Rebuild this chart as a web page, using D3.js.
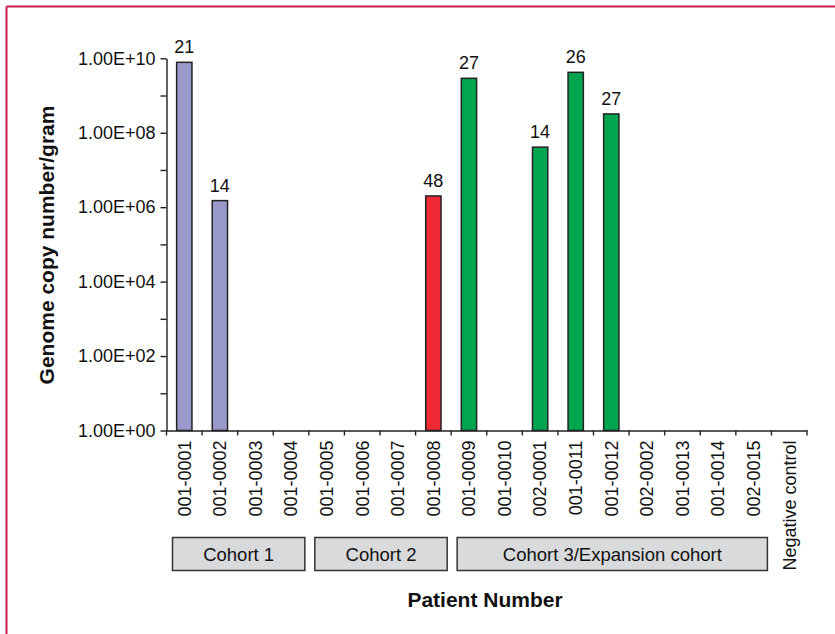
<!DOCTYPE html>
<html>
<head>
<meta charset="utf-8">
<script src="https://cdn.jsdelivr.net/npm/d3@7"></script>
<style>
  body { margin: 0; background: white; }
  text { font-family: Arial, "Liberation Sans", sans-serif; }
</style>
</head>
<body>
<div id="container"></div>
<script>
let w = 835;
let h = 634;

// data (0 = nothing detected, no bar)
let patients = ["001-0001", "001-0002", "001-0003", "001-0004", "001-0005", "001-0006",
  "001-0007", "001-0008", "001-0009", "001-0010", "002-0001", "001-0011", "001-0012",
  "002-0002", "001-0013", "001-0014", "002-0015", "Negative control"];
let copies = [7.8e9, 1.5e6, 0, 0, 0, 0, 0, 2.0e6, 2.9e9, 0, 4.1e7, 4.2e9, 3.2e8, 0, 0, 0, 0, 0];
let barLabels = ["21", "14", "", "", "", "", "", "48", "27", "", "14", "26", "27", "", "", "", "", ""];
let cohortOf = [1, 1, 1, 1, 2, 2, 2, 2, 3, 3, 3, 3, 3, 3, 3, 3, 3, 0];

let cohortNames = ["Cohort 1", "Cohort 2", "Cohort 3/Expansion cohort"];
let cohortFirst = ["001-0001", "001-0005", "001-0009"];
let cohortLast = ["001-0004", "001-0008", "002-0015"];

let yTickValues = [1, 1e1, 1e2, 1e3, 1e4, 1e5, 1e6, 1e7, 1e8, 1e9, 1e10];

let cohortColors = { 1: "#9999cc", 2: "#ee2b34", 3: "#00a550" };

let viz = d3.select("#container")
  .append("svg")
  .attr("width", w)
  .attr("height", h)
  .style("background-color", "white")
  ;

// frame lines on top and left
viz.append("line").attr("x1", 6.5).attr("y1", 6.5).attr("x2", w).attr("y2", 6.5)
  .attr("stroke", "#c8214f").attr("stroke-width", 2);
viz.append("line").attr("x1", 6.5).attr("y1", 6.5).attr("x2", 6.5).attr("y2", h)
  .attr("stroke", "#c8214f").attr("stroke-width", 2);

let plotLeft = 166.5;
let plotRight = 807;
let plotTop = 58.3;
let plotBottom = 430.5;

let xScale = d3.scaleBand().domain(patients).range([plotLeft, plotRight]).padding(0);
let yScale = d3.scaleLog().domain([1, 1e10]).range([plotBottom, plotTop]);

function formatTick(d) {
  let e = Math.round(Math.log10(d));
  if (e % 2 != 0) {
    return "";
  }
  return "1.00E+" + (e < 10 ? "0" + e : e);
}

// Y AXIS
let yAxis = d3.axisLeft(yScale)
  .tickValues(yTickValues)
  .tickFormat(formatTick)
  .tickSize(6)
  .tickSizeOuter(0)
  .tickPadding(5);
let yAxisGroup = viz.append("g").attr("class", "yaxis")
  .attr("transform", "translate(" + plotLeft + ", 0)")
  .call(yAxis);
yAxisGroup.selectAll("text").style("font-size", "18px").attr("fill", "#111");
yAxisGroup.selectAll("line, path").attr("stroke", "#222").attr("stroke-width", 1.4);

// X AXIS (line only, ticks at slot boundaries, labels rotated)
let xAxis = d3.axisBottom(xScale).tickSize(0).tickSizeOuter(0).tickPadding(10);
let xAxisGroup = viz.append("g").attr("class", "xaxis")
  .attr("transform", "translate(0, " + plotBottom + ")")
  .call(xAxis);
xAxisGroup.select("path").attr("stroke", "#222").attr("stroke-width", 1.4);
xAxisGroup.selectAll(".tick text")
  .style("font-size", "18px")
  .attr("fill", "#111")
  .attr("transform", "rotate(-90)")
  .attr("x", -10)
  .attr("y", 0)
  .attr("dy", "0.35em")
  .attr("text-anchor", "end");

let boundaries = patients.map(function (p) { return xScale(p); });
boundaries.push(plotRight);
viz.append("g").selectAll("line").data(boundaries).enter()
  .append("line")
  .attr("x1", function (d) { return d; })
  .attr("x2", function (d) { return d; })
  .attr("y1", plotBottom)
  .attr("y2", plotBottom + 5)
  .attr("stroke", "#222")
  .attr("stroke-width", 1.4);

// BARS
let barData = patients.map(function (p, i) {
  return { patient: p, value: copies[i], label: barLabels[i], cohort: cohortOf[i] };
}).filter(function (d) { return d.value > 0; });

let barWidth = xScale.bandwidth() * 0.43;

let bars = viz.append("g").attr("class", "bars").selectAll("rect").data(barData).enter()
  .append("rect")
  .attr("x", function (d) { return xScale(d.patient) + (xScale.bandwidth() - barWidth) / 2; })
  .attr("y", function (d) { return yScale(d.value); })
  .attr("width", barWidth)
  .attr("height", function (d) { return plotBottom - yScale(d.value); })
  .attr("fill", function (d) { return cohortColors[d.cohort]; })
  .attr("stroke", "#222")
  .attr("stroke-width", 1.5)
  ;

viz.append("g").attr("class", "barLabels").selectAll("text").data(barData).enter()
  .append("text")
  .attr("x", function (d) { return xScale(d.patient) + xScale.bandwidth() / 2; })
  .attr("y", function (d) { return yScale(d.value) - 9; })
  .attr("text-anchor", "middle")
  .style("font-size", "18px")
  .attr("fill", "#111")
  .text(function (d) { return d.label; });

// COHORT BOXES
let cohortGroup = viz.append("g").attr("class", "cohorts");
cohortNames.forEach(function (name, i) {
  let x0 = xScale(cohortFirst[i]) + 6;
  let x1 = xScale(cohortLast[i]) + xScale.bandwidth() - 4;
  cohortGroup.append("rect")
    .attr("x", x0)
    .attr("y", 537.5)
    .attr("width", x1 - x0)
    .attr("height", 33)
    .attr("fill", "#d9dadc")
    .attr("stroke", "#333")
    .attr("stroke-width", 1.5);
  cohortGroup.append("text")
    .attr("x", (x0 + x1) / 2)
    .attr("y", 560.5)
    .attr("text-anchor", "middle")
    .style("font-size", "18.5px")
    .attr("fill", "#111")
    .text(name);
});

// AXIS TITLES
viz.append("text")
  .attr("transform", "translate(54, 245) rotate(-90)")
  .attr("text-anchor", "middle")
  .style("font-size", "21px")
  .style("font-weight", "bold")
  .attr("fill", "#111")
  .text("Genome copy number/gram");

viz.append("text")
  .attr("x", 485)
  .attr("y", 607)
  .attr("text-anchor", "middle")
  .style("font-size", "21px")
  .style("font-weight", "bold")
  .attr("fill", "#111")
  .text("Patient Number");
</script>
</body>
</html>
